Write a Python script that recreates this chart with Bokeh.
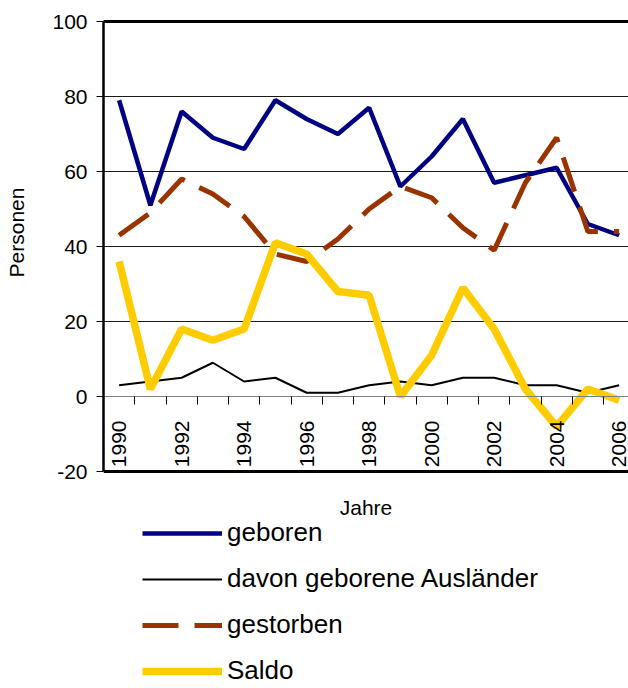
from math import pi
from bokeh.plotting import figure
from bokeh.models import Range1d, FixedTicker, LinearAxis, Legend, LegendItem
from bokeh.embed import file_html
from bokeh.resources import INLINE

# ---- data ----
years = list(range(1990, 2007))
geboren = [79, 51, 76, 69, 66, 79, 74, 70, 77, 56, 64, 74, 57, 59, 61, 46, 43]
auslaender = [3, 4, 5, 9, 4, 5, 1, 1, 3, 4, 3, 5, 5, 3, 3, 1, 3]
gestorben = [43, 49, 58, 54, 48, 38, 36, 42, 50, 56, 53, 45, 39, 57, 69, 44, 44]
saldo = [36, 2, 18, 15, 18, 41, 38, 28, 27, 0, 11, 29, 18, 2, -8, 2, -1]
year_labels = [1990, 1992, 1994, 1996, 1998, 2000, 2002, 2004, 2006]
year_bounds = [y + 0.5 for y in years[:-1]]
y_ticks = [-20, 0, 20, 40, 60, 80, 100]
grid_ticks = [20, 40, 60, 80]
y_min, y_max = -20, 100

FONT = "Liberation Sans"

# plot area: 525 x 450 px for -20..100; the frame continues below to hold the legend
PX_PER_UNIT = 450 / (y_max - y_min)
EXTRA_PX = 217
p = figure(frame_width=525, frame_height=450 + EXTRA_PX,
           x_range=Range1d(1989.5, 1989.5 + 525 / 31.25),
           y_range=Range1d(y_min - EXTRA_PX / PX_PER_UNIT, y_max),
           output_backend="svg", toolbar_location=None,
           x_axis_type=None,
           min_border_left=103, min_border_right=0,
           min_border_top=21, min_border_bottom=0)
p.outline_line_color = None
p.background_fill_color = "white"

# y axis
ya = p.yaxis[0]
ya.ticker = FixedTicker(ticks=y_ticks)
ya.bounds = (y_min, y_max)
ya.major_label_overrides = {-20: "-20"}
ya.minor_tick_line_color = None
ya.major_tick_out = 7
ya.major_tick_in = 0
ya.major_tick_line_color = "black"
ya.axis_line_width = 2.5
ya.axis_line_color = "black"
ya.major_label_text_font = FONT
ya.major_label_text_font_size = "21px"
ya.major_label_text_color = "black"
ya.major_label_standoff = 9
# leading no-break spaces lift the centred title to the middle of the plot area
ya.axis_label = "\u00a0" * 42 + "Personen"
ya.axis_label_text_font = FONT
ya.axis_label_text_font_size = "21px"
ya.axis_label_text_font_style = "normal"
ya.axis_label_text_color = "black"
ya.axis_label_standoff = 21

p.ygrid.ticker = FixedTicker(ticks=grid_ticks)
p.ygrid.grid_line_color = "#1a1a1a"
p.ygrid.grid_line_width = 1

# x axis at y = 0
xa = LinearAxis(fixed_location=0,
                ticker=FixedTicker(ticks=year_labels, minor_ticks=year_bounds))
xa.major_tick_out = 0
xa.major_tick_in = 0
xa.major_tick_line_color = None
xa.minor_tick_out = 8
xa.minor_tick_in = 0
xa.minor_tick_line_color = "black"
xa.axis_line_color = "#808080"
xa.axis_line_width = 1
xa.major_label_orientation = pi / 2
xa.major_label_standoff = 16
xa.major_label_text_font = FONT
xa.major_label_text_font_size = "21px"
xa.major_label_text_color = "black"
p.add_layout(xa, "below")

# bottom border of the plot area (y = -20) with axis title
xb = LinearAxis(fixed_location=y_min, ticker=FixedTicker(ticks=[]))
xb.axis_line_width = 3
xb.axis_line_color = "black"
xb.major_tick_line_color = None
xb.minor_tick_line_color = None
xb.axis_label = "Jahre"
xb.axis_label_text_font = FONT
xb.axis_label_text_font_size = "21px"
xb.axis_label_text_font_style = "normal"
xb.axis_label_text_color = "black"
xb.axis_label_standoff = 24
p.add_layout(xb, "below")

# top border
xt = LinearAxis(ticker=FixedTicker(ticks=[]))
xt.axis_line_width = 3
xt.axis_line_color = "black"
xt.major_tick_line_color = None
xt.minor_tick_line_color = None
p.add_layout(xt, "above")

# ---- lines ----
r_geb = p.line(years, geboren, line_color="#000080", line_width=4.5)
r_aus = p.line(years, auslaender, line_color="black", line_width=2)
r_gest = p.line(years, gestorben, line_color="#993300", line_width=5,
                line_dash="36 16")
r_sal = p.line(years, saldo, line_color="#FFCC00", line_width=7.5)

legend = Legend(items=[
    LegendItem(label="geboren", renderers=[r_geb]),
    LegendItem(label="davon geborene Ausländer", renderers=[r_aus]),
    LegendItem(label="gestorben", renderers=[r_gest]),
    LegendItem(label="Saldo", renderers=[r_sal]),
], location=(39, 2), orientation="vertical",
    glyph_width=80, glyph_height=30, label_height=30, spacing=15,
    padding=0, margin=0, label_standoff=5,
    background_fill_alpha=0, border_line_color=None,
    label_text_font=FONT, label_text_font_size="26px",
    label_text_color="black")
p.add_layout(legend)

open("out.html", "w").write(file_html(p, INLINE))
